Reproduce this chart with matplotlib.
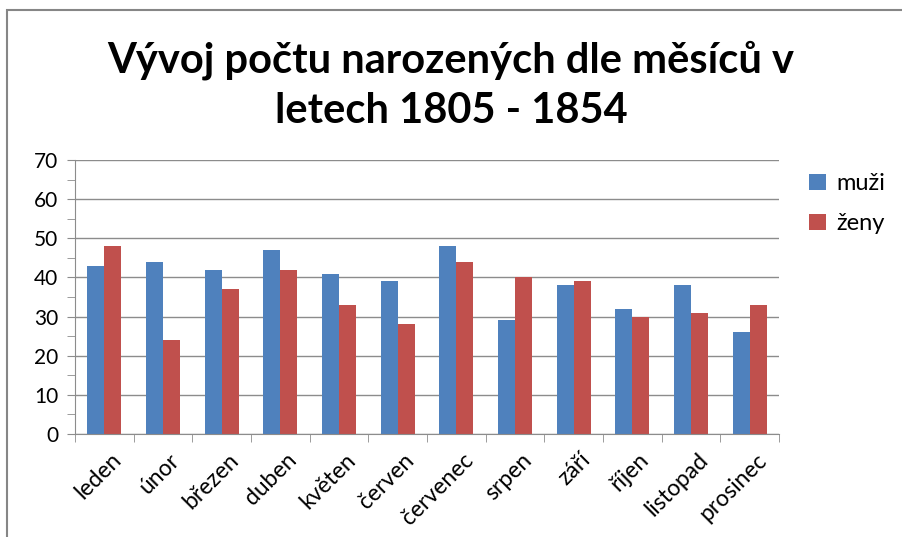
import matplotlib.pyplot as plt
import numpy as np
from matplotlib.patches import Rectangle
from matplotlib.ticker import MultipleLocator
from matplotlib.transforms import ScaledTranslation

plt.rcParams['font.family'] = ['Lato', 'DejaVu Sans']

mesice = ['leden', 'únor', 'březen', 'duben', 'květen', 'červen',
          'červenec', 'srpen', 'září', 'říjen', 'listopad', 'prosinec']
muzi = [43, 44, 42, 47, 41, 39, 48, 29, 38, 32, 38, 26]
zeny = [48, 24, 37, 42, 33, 28, 44, 40, 39, 30, 31, 33]

fig = plt.figure(figsize=(9.02, 5.37), dpi=100)
fig.patches.append(Rectangle((0.008, -0.01), 1.0, 0.991, transform=fig.transFigure,
                             fill=False, edgecolor='#868686', linewidth=1.5))

ax = fig.add_axes([75 / 902, 1 - 434 / 537, (779 - 75) / 902, (434 - 160) / 537])
x = np.arange(len(mesice))
w = 0.29
ax.bar(x - w / 2, muzi, w, color='#4F81BD', label='muži')
ax.bar(x + w / 2, zeny, w, color='#C0504D', label='ženy')

ax.set_xlim(-0.5, len(mesice) - 0.5)
ax.set_ylim(0, 70)
ax.yaxis.set_major_locator(MultipleLocator(10))
ax.yaxis.set_minor_locator(MultipleLocator(5))
ax.grid(axis='y', color='#8c8c8c', linewidth=1)
ax.set_axisbelow(True)
for s in ['top', 'right']:
    ax.spines[s].set_visible(False)
for s in ['left', 'bottom']:
    ax.spines[s].set_color('#8c8c8c')
ax.set_xticks(x)
ax.set_xticklabels(mesice, rotation=45, ha='right', rotation_mode='anchor', fontsize=16.5)
ax.tick_params(axis='x', length=0, pad=11)
# posun popisku mesicu trochu doprava
posun = ScaledTranslation(6 / 100, 0, fig.dpi_scale_trans)
for lbl in ax.get_xticklabels():
    lbl.set_transform(lbl.get_transform() + posun)
ax.set_xticks(np.arange(-0.5, len(mesice)), minor=True)
ax.tick_params(axis='x', which='minor', length=6, color='#8c8c8c')
ax.tick_params(axis='y', which='both', length=6, color='#8c8c8c', labelsize=15, pad=6)

fig.text(0.5, 1 - 40 / 537, 'Vývoj počtu narozených dle měsíců v\nletech 1805 - 1854',
         ha='center', va='top', fontsize=30, fontweight='bold', linespacing=1.4)

fig.legend(loc='upper left', bbox_to_anchor=(788 / 902, 1 - 152 / 537), frameon=False,
           fontsize=17, handlelength=0.7, handleheight=0.7, labelspacing=0.8,
           handletextpad=0.45)

fig.savefig('out.png', dpi=100)
